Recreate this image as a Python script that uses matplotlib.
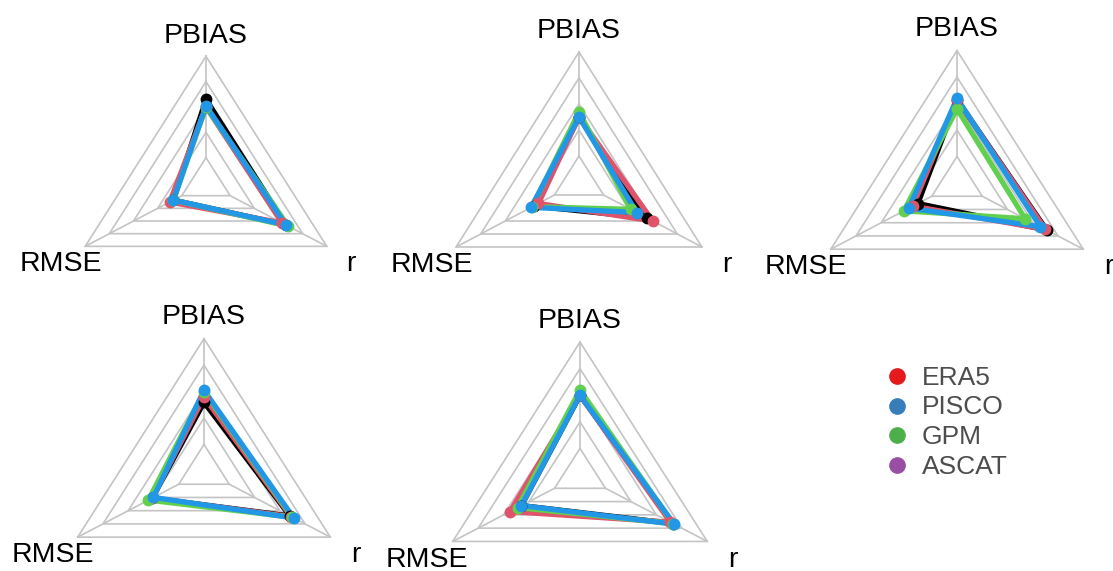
import numpy as np
import matplotlib
matplotlib.use('Agg')
import matplotlib.pyplot as plt

plt.rcParams['font.family'] = ['Liberation Sans', 'DejaVu Sans']

# radar axes, counter-clockwise from the top
axis_names = ['PBIAS', 'RMSE', 'r']
axis_angles = np.deg2rad([90, 210, 330])

# line colours of the four products (black, red, green, blue)
series_colors = ['#000000', '#DF536B', '#61D04F', '#2297E6']

# scaled scores per panel: one row per product, columns PBIAS, RMSE, r
panel1 = [[0.66, 0.27, 0.66], [0.60, 0.30, 0.63], [0.60, 0.27, 0.68], [0.61, 0.27, 0.66]]
panel2 = [[0.50, 0.37, 0.55], [0.50, 0.33, 0.60], [0.54, 0.38, 0.42], [0.50, 0.39, 0.47]]
panel3 = [[0.63, 0.31, 0.71], [0.63, 0.35, 0.70], [0.56, 0.42, 0.54], [0.64, 0.38, 0.66]]
panel4 = [[0.52, 0.41, 0.68], [0.56, 0.41, 0.69], [0.60, 0.44, 0.70], [0.61, 0.40, 0.71]]
panel5 = [[0.60, 0.46, 0.73], [0.60, 0.55, 0.71], [0.64, 0.49, 0.73], [0.60, 0.46, 0.74]]
panels = [panel1, panel2, panel3, panel4, panel5]

grid_levels = [0.2, 0.4, 0.6, 0.8, 1.0]

legend_labels = ['ERA5', 'PISCO', 'GPM', 'ASCAT']
legend_colors = ['#E41A1C', '#377EB8', '#4DAF4A', '#984EA3']

W, H = 1113, 571
fig = plt.figure(figsize=(W / 100, H / 100), dpi=100)
fig.patch.set_facecolor('white')

# centre (px) and unit scale (px) of each radar
layout = [
    (206, 183, 139.5, 126.7),
    (579, 182, 141.9, 130.0),
    (957, 183, 145.8, 132.4),
    (204, 471, 145.9, 132.3),
    (580, 475, 147.0, 132.9),
]

XL, YB, YT = 1.5, 0.8, 1.4


def radar(data, cx, cy, sx, sy):
    left = (cx - XL * sx) / W
    width = 2 * XL * sx / W
    top = cy - YT * sy
    height = (YB + YT) * sy
    ax = fig.add_axes([left, 1 - (top + height) / H, width, height / H])
    ax.set_xlim(-XL, XL)
    ax.set_ylim(-YB, YT)
    ax.axis('off')
    ax.patch.set_visible(False)

    cs, sn = np.cos(axis_angles), np.sin(axis_angles)
    for lv in grid_levels:
        ax.plot(np.append(lv * cs, lv * cs[0]), np.append(lv * sn, lv * sn[0]),
                color='#C4C4C4', lw=1.2, zorder=1)
    for c, s in zip(cs, sn):
        ax.plot([0.2 * c, c], [0.2 * s, s], color='#C4C4C4', lw=1.2, zorder=1)

    for vals, col in zip(data, series_colors):
        v = np.array(vals)
        xs, ys = v * cs, v * sn
        ax.plot(np.append(xs, xs[0]), np.append(ys, ys[0]), color=col, lw=3.8,
                solid_joinstyle='round', zorder=2)
        ax.plot(xs, ys, 'o', color=col, ms=7.5, zorder=3)

    # labels sit at 1.2 x radius; baseline a little below that point
    drop = 12 / sy
    for name, c, s in zip(axis_names, cs, sn):
        ax.text(1.2 * c, 1.2 * s - drop, name, ha='center', va='baseline',
                fontsize=20.5, color='black', clip_on=False)


for data, (cx, cy, sx, sy) in zip(panels, layout):
    radar(data, cx, cy, sx, sy)

# legend drawn on a full-figure overlay in pixel units
lax = fig.add_axes([0, 0, 1, 1])
lax.set_xlim(0, W)
lax.set_ylim(H, 0)
lax.axis('off')
lax.patch.set_visible(False)
for i, (lab, col) in enumerate(zip(legend_labels, legend_colors)):
    y = 376 + i * 29.5
    lax.plot(897, y, 'o', color=col, ms=11)
    lax.text(922, y + 9, lab, ha='left', va='baseline', fontsize=19, color='#4D4D4D')

fig.savefig('out.png', dpi=100)
